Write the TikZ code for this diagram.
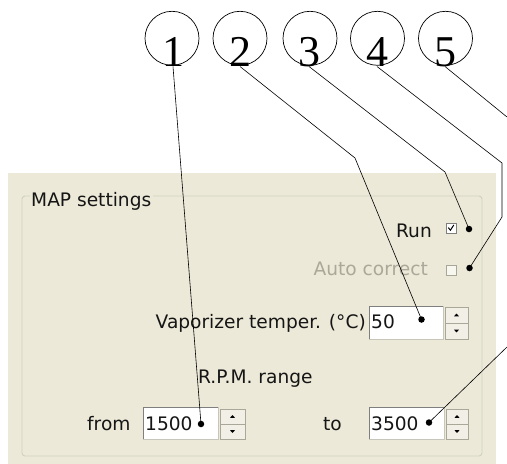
\documentclass[tikz,border=0pt]{standalone}
\usepackage{fontspec}
\setmainfont{DejaVu Sans}
\newfontfamily\numfont{Liberation Serif}
\definecolor{panelbg}{HTML}{ECE9D8}
\definecolor{framegray}{HTML}{D0D0BF}
\definecolor{disabledtxt}{HTML}{ACA899}
\definecolor{fielddark}{HTML}{7F7F7F}
\definecolor{fieldlight}{HTML}{C8C6BA}
\definecolor{spinface}{HTML}{F1EFE6}
\definecolor{spinedge}{HTML}{A9A797}
\definecolor{uitext}{HTML}{151515}
\newcommand\spinbtns[5]{%
  \filldraw[spinbtn] (#1,#2) rectangle (#3,#4);
  \filldraw[spinbtn] (#1,#4) rectangle (#3,#5);
  \fill[black] ({(#1+#3)/2-2.5},{(#2+#4)/2+1.3}) -- ({(#1+#3)/2+2.5},{(#2+#4)/2+1.3}) -- ({(#1+#3)/2},{(#2+#4)/2-1.4}) -- cycle;
  \fill[black] ({(#1+#3)/2-2.5},{(#4+#5)/2-1.3}) -- ({(#1+#3)/2+2.5},{(#4+#5)/2-1.3}) -- ({(#1+#3)/2},{(#4+#5)/2+1.4}) -- cycle;
}
\newcommand\txtfield[4]{%
  \filldraw[fill=white, draw=fieldlight, line width=0.8pt] (#1,#2) rectangle (#3,#4);
  \draw[fielddark, line width=0.8pt] (#1,#4) -- (#1,#2) -- (#3,#2);
}
\begin{document}
\begin{tikzpicture}[x=1pt,y=-1pt,
  numcirc/.style={draw=black, line width=0.7pt, circle, minimum size=54pt, inner sep=0pt},
  digit/.style={font=\numfont\fontsize{44}{44}\selectfont, inner sep=0pt, anchor=base, text=black},
  ui/.style={font=\fontsize{18.6}{20}\selectfont, inner sep=0pt, text=uitext},
  dotmark/.style={circle, fill=black, minimum size=6.5pt, inner sep=0pt},
  leader/.style={draw=black, line width=0.6pt},
  spinbtn/.style={fill=spinface, draw=spinedge, line width=0.6pt},
]
\useasboundingbox (0,0) rectangle (507,464);
% panel
\fill[panelbg] (8,173) rectangle (496,464);
\draw[framegray, line width=0.9pt, rounded corners=3pt] (22,196) rectangle (482,456);
\node[ui, anchor=base west, fill=panelbg, inner xsep=1.5pt, inner ysep=2pt] (title) at (29.5,206) {MAP settings};

% widgets
\node[ui, anchor=base east] (run) at (432,237) {Run};
\filldraw[fill=white, draw=fielddark, line width=0.6pt] (446,223) rectangle (456,233);
\draw[black, line width=1pt] (448.3,227.6) -- (450.4,230.2) -- (453.8,225);
\node[ui, anchor=base east, text=disabledtxt] (auto) at (428,275) {Auto correct};
\filldraw[fill=white!60!panelbg, draw=framegray!80!black, line width=0.6pt] (446,265) rectangle (456,275);

\node[ui, anchor=base east] (vap) at (366,328) {Vaporizer temper. (°C)};
\txtfield{369}{306}{443}{339}
\node[ui, anchor=base west] (v50) at (371,328) {50};
\spinbtns{445}{307}{468}{323}{339}

\node[ui, anchor=base west] (rpm) at (198,383) {R.P.M. range};

\node[ui, anchor=base west] (from) at (87,430) {from};
\txtfield{143}{407}{218}{439}
\node[ui, anchor=base west] (v1500) at (145,430) {1500};
\spinbtns{220}{409}{245}{424}{439}

\node[ui, anchor=base west] (to) at (323,430) {to};
\txtfield{369}{407}{444}{439}
\node[ui, anchor=base west] (v3500) at (371,430) {3500};
\spinbtns{446}{409}{468}{424}{439}

% callout circles
\node[numcirc] (c1) at (172,38.3) {};
\node[numcirc] (c2) at (240,38.3) {};
\node[numcirc] (c3) at (310,38.3) {};
\node[numcirc] (c4) at (377.5,38.3) {};
\node[numcirc] (c5) at (445.5,38.3) {};
\node[digit] (d1) at (173,66.5) {1};
\node[digit] (d2) at (240,66.5) {2};
\node[digit] (d3) at (309,66.5) {3};
\node[digit] (d4) at (377,66.5) {4};
\node[digit] (d5) at (445,66.5) {5};

% dots
\node[dotmark] (p1) at (201,424) {};
\node[dotmark] (p2) at (421.5,319.5) {};
\node[dotmark] (p3) at (469,229) {};
\node[dotmark] (p4) at (469.5,268) {};
\node[dotmark] (p5) at (429,422.5) {};
\coordinate (e5a) at (507,117);
\coordinate (e5b) at (507,347);

% leaders
\draw[leader] (d1.base) -- (p1.center);
\draw[leader] (d2.base) -- (355,158) -- (p2.center);
\draw[leader] (d3.base) -- (445,172) -- (p3.center);
\draw[leader] (d4.base) -- (502,163) -- (502,217) -- (p4.center);
\draw[leader] (d5.base) -- (e5a);
\draw[leader] (e5b) -- (p5.center);
\end{tikzpicture}
\end{document}
